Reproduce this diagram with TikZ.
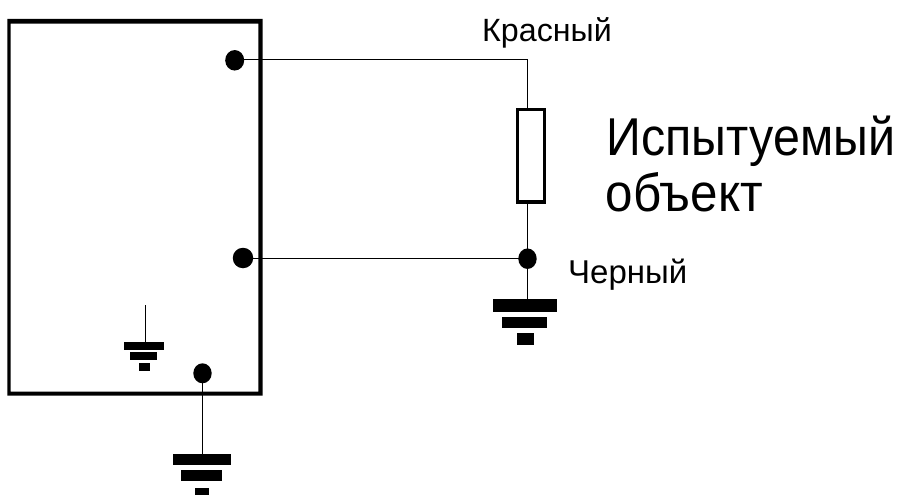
\documentclass[tikz,border=0pt]{standalone}
\usepackage{graphicx}
\usepackage{fontspec}
\setmainfont{Liberation Sans}
\usetikzlibrary{shapes.geometric}
\begin{document}
\begin{tikzpicture}[x=1pt,y=-1pt,
 dot/.style={ellipse,fill=black,inner sep=0pt,minimum width=19pt,minimum height=20.5pt},
 wire/.style={line width=1pt,line join=miter},
 bar/.style={fill=black,inner sep=0pt,outer sep=0pt,draw=none},
 lab/.style={inner sep=0pt,anchor=base west,text=black}]
\useasboundingbox (0,0) rectangle (900,495);
\fill[white] (0,0) rectangle (900,495);
\fill[black,even odd rule] (7.3,19) rectangle (262.7,395.7) (10.7,23.7) rectangle (258.3,391.7);
\coordinate (tr) at (527.5,59.2);
\coordinate (gt3) at (145,305);
\node[dot] (a) at (234.7,60.3) {};
\node[dot,minimum width=20.5pt] (b) at (243,258) {};
\node[dot,minimum width=18.4pt,minimum height=20pt] (c) at (202.5,373.3) {};
\node[dot,minimum width=18.4pt] (d) at (527.5,258.7) {};
\node[draw,line width=3.6pt,minimum width=27pt,minimum height=92.3pt,inner sep=0pt,outer sep=1.8pt,fill=white] (r) at (531,155.8) {};
% grounds
\node[bar,minimum width=64pt,minimum height=12.7pt] (g1a) at (525.3,305.3) {};
\node[bar,minimum width=44.7pt,minimum height=11.3pt] (g1b) at (524.7,322.3) {};
\node[bar,minimum width=17pt,minimum height=12.6pt] (g1c) at (525.5,339) {};
\node[bar,minimum width=58pt,minimum height=11pt] (g2a) at (201.7,459.5) {};
\node[bar,minimum width=40.7pt,minimum height=11.3pt] (g2b) at (201.7,475.7) {};
\node[bar,minimum width=14.3pt,minimum height=7.5pt] (g2c) at (201.9,491.3) {};
\node[bar,minimum width=39.4pt,minimum height=8pt] (g3a) at (144,345.7) {};
\node[bar,minimum width=27.3pt,minimum height=8.3pt] (g3b) at (143.7,355.9) {};
\node[bar,minimum width=11pt,minimum height=8pt] (g3c) at (144.5,367.3) {};
% wires
\draw[wire] (a.center|-tr) -- (tr) -- (r.north-|tr);
\draw[wire] (r.south-|tr) -- (d.center);
\draw[wire] (b.center|-d.center) -- (d.center);
\draw[wire] (d.center) -- (g1a.north-|d.center);
\draw[wire] (c.center) -- (g2a.north-|c.center);
\draw[wire] (gt3) -- (g3a.north-|gt3);
% labels
\node[lab,font=\fontsize{32.2}{32}\selectfont] (t1) at (482,42) {Красный};
\node[lab,font=\fontsize{33}{33}\selectfont] (t2) at (568,283.5) {Черный};
\node[lab,font=\fontsize{48.4}{48}\selectfont] (t3) at (606.5,155) {\scalebox{1}[1.1]{Испытуемый}};
\node[lab,font=\fontsize{48.4}{48}\selectfont] (t4) at (605.5,211.5) {\scalebox{1.02}[1.1]{объект}};
\end{tikzpicture}
\end{document}
